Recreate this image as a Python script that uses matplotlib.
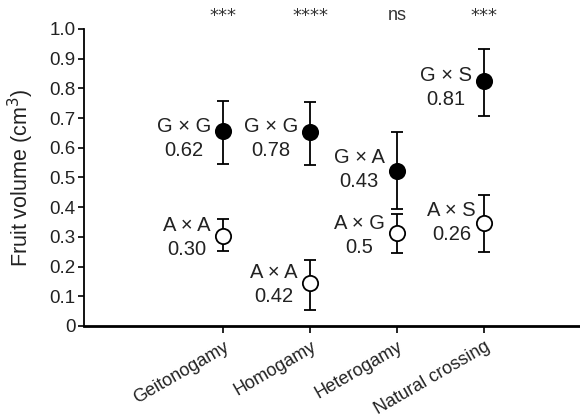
import numpy as np
import matplotlib
matplotlib.use("Agg")
import matplotlib.pyplot as plt

plt.rcParams['font.family'] = ['Liberation Sans', 'DejaVu Sans']

# Data
categories = ["Geitonogamy", "Homogamy", "Heterogamy", "Natural crossing"]
significance = ["***", "****", "ns", "***"]

# filled circles (upper group)
top_mean = [0.655, 0.654, 0.523, 0.825]
top_low = [0.545, 0.542, 0.394, 0.707]
top_high = [0.758, 0.755, 0.654, 0.932]
top_names = ["G × G", "G × G", "G × A", "G × S"]
top_values = ["0.62", "0.78", "0.43", "0.81"]

# open circles (lower group)
bot_mean = [0.303, 0.144, 0.313, 0.348]
bot_low = [0.253, 0.054, 0.246, 0.248]
bot_high = [0.360, 0.222, 0.377, 0.441]
bot_names = ["A × A", "A × A", "A × G", "A × S"]
bot_values = ["0.30", "0.42", "0.5", "0.26"]

# label offsets (points), used only for layout
top_dy = [-5, -5, 1, -5]
bot_dy = [-1, -1, -2, 0]
top_dx = [-9, -9, -9, -9]
bot_dx = [-9, -9, -9, -6]

x = np.arange(len(categories))

fig = plt.figure(figsize=(5.8, 4.19), dpi=100)
ax = fig.add_axes([0.145, 0.222, 0.855, 0.709])


def draw_group(mean, low, high, face):
    mean = np.array(mean)
    yerr = [mean - np.array(low), np.array(high) - mean]
    ax.errorbar(x, mean, yerr=yerr, fmt='o', ms=11, mfc=face, mec='black',
                mew=1.3, ecolor='black', elinewidth=1.3, capsize=4.5,
                capthick=1.3, color='black', zorder=3)


draw_group(top_mean, top_low, top_high, 'black')
draw_group(bot_mean, bot_low, bot_high, 'white')

for i in range(len(categories)):
    ax.annotate(top_names[i] + "\n" + top_values[i], (x[i], top_mean[i]),
                xytext=(top_dx[i], top_dy[i]), textcoords='offset points',
                ha='right', va='center', multialignment='center',
                fontsize=14.5, linespacing=1.35, color='#222222')
    ax.annotate(bot_names[i] + "\n" + bot_values[i], (x[i], bot_mean[i]),
                xytext=(bot_dx[i], bot_dy[i]), textcoords='offset points',
                ha='right', va='center', multialignment='center',
                fontsize=14.5, linespacing=1.35, color='#222222')
    sig_font = ['DejaVu Sans'] if '*' in significance[i] else ['Liberation Sans']
    ax.text(x[i], 1.045, significance[i], ha='center', va='center',
            fontsize=13, color='#333333', family=sig_font)

ax.set_xlim(-1.6, 4.1)
ax.set_ylim(0, 1.0)
ax.set_yticks(np.arange(0, 1.01, 0.1))
ax.set_yticklabels(["0"] + [f"{v:.1f}" for v in np.arange(0.1, 1.01, 0.1)])
ax.set_xticks(x)
ax.set_xticklabels(categories, rotation=30, ha='right', rotation_mode='anchor')
ax.tick_params(axis='y', direction='out', length=4, width=1.2, labelsize=13.5,
               pad=2, labelcolor='#222222')
ax.tick_params(axis='x', direction='out', length=5, width=1.2, labelsize=13,
               pad=4, labelcolor='#222222')

ax.spines['top'].set_visible(False)
ax.spines['right'].set_visible(False)
ax.spines['left'].set_linewidth(1.3)
ax.spines['bottom'].set_linewidth(2.0)

ax.set_ylabel("Fruit volume (cm$^3$)", fontsize=15.5, labelpad=10, color='#222222')

fig.savefig("out.png", dpi=100)
